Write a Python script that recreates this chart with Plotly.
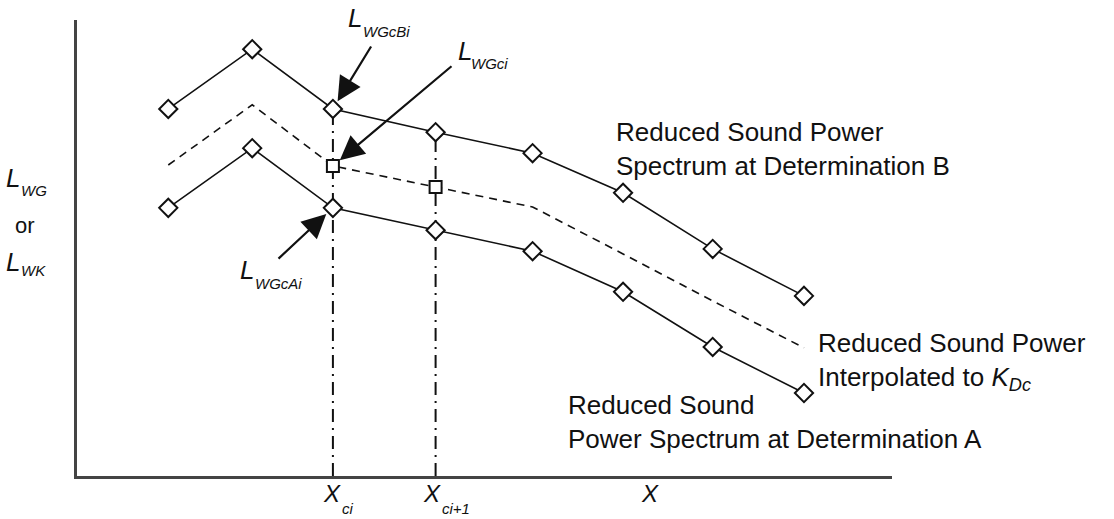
import plotly.graph_objects as go

# ---- data (axis units: x 0..100, y 0..100) ----
x_pos = [11.2, 21.5, 31.4, 44.0, 55.9, 67.0, 78.0, 89.2]
level_B = [80.5, 93.6, 80.5, 75.4, 70.8, 62.1, 49.8, 39.5]
level_A = [58.8, 71.9, 58.8, 53.9, 49.3, 40.4, 28.3, 18.2]
level_interp = [68.2, 81.4, 68.0, 63.4, 59.0, 48.7, 38.4, 28.1]
ci_index = [2, 3]          # indices of X_ci and X_ci+1

FONT = "Arial, Liberation Sans, sans-serif"
INK = "#111111"

# plot area on screen: x 77..892, y 20..476 (page body margin removed below)
W, H = 1114, 519
PL, PR, PT, PB = 77, 892, 20, 476
L_M, T_M = PL, PT
R_M = W - PR
B_M = H - PB


def sx(xs):
    return (xs - PL) / (PR - PL)


def sy(ys):
    return (PB - ys) / (PB - PT)


fig = go.Figure()

# dash-dot verticals at X_ci and X_ci+1
for i in ci_index:
    fig.add_trace(go.Scatter(x=[x_pos[i], x_pos[i]], y=[0, level_B[i]], mode="lines",
                             line=dict(color=INK, width=2, dash="13px,6px,2px,6px"),
                             showlegend=False, hoverinfo="skip"))

# interpolated dashed line
fig.add_trace(go.Scatter(x=x_pos, y=level_interp, mode="lines",
                         line=dict(color=INK, width=1.6, dash="8px,6px"),
                         showlegend=False))
# spectrum B and A
for lv in (level_B, level_A):
    fig.add_trace(go.Scatter(x=x_pos, y=lv, mode="lines+markers",
                             line=dict(color=INK, width=1.6),
                             marker=dict(symbol="diamond", size=14, color="white",
                                         line=dict(color=INK, width=2)),
                             showlegend=False))
# interpolated squares
fig.add_trace(go.Scatter(x=[x_pos[i] for i in ci_index], y=[level_interp[i] for i in ci_index],
                         mode="markers",
                         marker=dict(symbol="square", size=12, color="white",
                                     line=dict(color=INK, width=2)),
                         showlegend=False))

ann = []


def text(xs, ys, t, size, italic=False):
    s = f"<i>{t}</i>" if italic else t
    ann.append(dict(x=sx(xs), y=sy(ys), xref="paper", yref="paper", text=s, showarrow=False,
                    xanchor="left", yanchor="middle", font=dict(family=FONT, size=size, color=INK)))


def mathlabel(xm, ym, main, xs, ys, sub, size=26, subsize=15):
    text(xm, ym, main, size, italic=True)
    text(xs, ys, sub, subsize, italic=True)


mathlabel(346, 18, "L", 361, 32, "WGcBi")
mathlabel(456, 51, "L", 469, 64, "WGci")
mathlabel(238, 270, "L", 253, 283, "WGcAi")
mathlabel(4, 178, "L", 19, 190, "WG")
text(13, 226, "or", 22)
mathlabel(4, 262, "L", 19, 270, "WK")
mathlabel(321, 493, "X", 340, 508, "ci", size=24)
mathlabel(421, 493, "X", 440, 508, "ci+1", size=24)
text(639, 493, "X", 24, italic=True)

# descriptive labels
for xs, ys, t in [
    (614, 149, "Reduced Sound Power<br>Spectrum at Determination B"),
    (816, 361, "Reduced Sound Power<br>Interpolated to <i>K</i><sub><i>Dc</i></sub>"),
    (566, 422, "Reduced Sound<br>Power Spectrum at Determination A"),
]:
    ann.append(dict(x=sx(xs), y=sy(ys), xref="paper", yref="paper", showarrow=False,
                    xanchor="left", yanchor="middle", align="left", text=t,
                    font=dict(family=FONT, size=26, color=INK)))

# arrows: tip at the data point, tail in screen pixels
arrows = [(x_pos[2], level_B[2], 372, 45),
          (x_pos[2], level_interp[2], 453, 65),
          (x_pos[2], level_A[2], 277, 260)]
for xt, yt, tx, ty in arrows:
    ann.append(dict(x=xt, y=yt, xref="x", yref="y",
                    ax=sx(tx) * 100, ay=sy(ty) * 100, axref="x", ayref="y",
                    text="", showarrow=True, arrowhead=2, arrowsize=2.2, arrowwidth=2.2,
                    arrowcolor=INK, standoff=9))

fig.update_layout(
    width=W, height=H, margin=dict(l=L_M, r=R_M, t=T_M, b=B_M),
    paper_bgcolor="white", plot_bgcolor="white",
    annotations=ann,
    xaxis=dict(range=[0, 100], showgrid=False, zeroline=False, showticklabels=False, ticks="",
               showline=True, linecolor="#444444", linewidth=2.5, fixedrange=True),
    yaxis=dict(range=[0, 100], showgrid=False, zeroline=False, showticklabels=False, ticks="",
               showline=True, linecolor="#444444", linewidth=2.5, fixedrange=True),
)

fig.write_html("out.html", config={"displayModeBar": False},
               post_script="document.body.style.margin='0';document.body.style.overflow='hidden';")
